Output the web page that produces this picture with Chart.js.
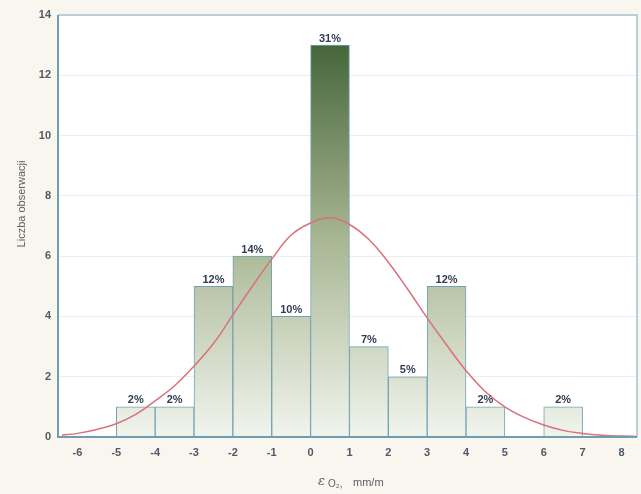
<!DOCTYPE html>
<html>
<head>
<meta charset="utf-8">
<script src="https://cdn.jsdelivr.net/npm/chart.js@4.4.1/dist/chart.umd.min.js"></script>
<style>
  body { margin: 0; background: #f9f6ef; }
  #wrap { width: 641px; height: 494px; }
</style>
</head>
<body>
<div id="wrap"><canvas id="histograma" width="641" height="494"></canvas></div>
<script>
// histogram bins (centre of each 1 mm/m class) and counts
const binCenters = [-4.5, -3.5, -2.5, -1.5, -0.5, 0.5, 1.5, 2.5, 3.5, 4.5, 5.5, 6.5];
const counts = [1, 1, 5, 6, 4, 13, 3, 2, 5, 1, 0, 1];
const pctLabels = ["2%", "2%", "12%", "14%", "10%", "31%", "7%", "5%", "12%", "2%", "", "2%"];

// fitted curve
const curveX = [-6.4, -6, -5.5, -5, -4.5, -4, -3.5, -3, -2.5, -2, -1.5, -1, -0.5, 0, 0.5, 1, 1.5, 2, 2.5, 3, 3.5, 4, 4.5, 5, 5.5, 6, 6.5, 7, 7.5, 8, 8.4];
const curveY = [0.06, 0.12, 0.25, 0.44, 0.75, 1.2, 1.7, 2.35, 3.1, 4.05, 5.0, 5.9, 6.7, 7.1, 7.27, 7.05, 6.55, 5.8, 4.9, 3.95, 3.05, 2.2, 1.5, 1.0, 0.65, 0.4, 0.22, 0.12, 0.06, 0.03, 0.02];

const xTicks = [-6, -5, -4, -3, -2, -1, 0, 1, 2, 3, 4, 5, 6, 7, 8];
const yTicks = [0, 2, 4, 6, 8, 10, 12, 14];

const fontName = "'Liberation Sans', Arial, sans-serif";

function barGradient(context) {
    const chart = context.chart;
    const area = chart.chartArea;
    if (!area) return "#a2b28c";
    const y = chart.scales.y;
    const g = chart.ctx.createLinearGradient(0, y.getPixelForValue(0), 0, y.getPixelForValue(13));
    g.addColorStop(0, "#f1f4ed");
    g.addColorStop(0.5, "#a9b794");
    g.addColorStop(1, "#46663a");
    return g;
}

// tlo wykresu i ramka
const tlo = {
    id: "tlo",
    beforeDraw(chart) {
        const { ctx, chartArea: a } = chart;
        ctx.save();
        ctx.fillStyle = "#f9f6ef";
        ctx.fillRect(0, 0, chart.width, chart.height);
        ctx.fillStyle = "#ffffff";
        ctx.fillRect(a.left, a.top, a.right - a.left, a.bottom - a.top);
        ctx.restore();
    },
    afterDraw(chart) {
        const { ctx, chartArea: a } = chart;
        ctx.save();
        ctx.strokeStyle = "#b7d0da";
        ctx.lineWidth = 2;
        ctx.beginPath();
        ctx.moveTo(a.left, a.top);
        ctx.lineTo(a.right, a.top);
        ctx.lineTo(a.right, a.bottom);
        ctx.stroke();
        ctx.strokeStyle = "#6e9fb0";
        ctx.beginPath();
        ctx.moveTo(a.left, a.top);
        ctx.lineTo(a.left, a.bottom);
        ctx.lineTo(a.right, a.bottom);
        ctx.stroke();

        // procenty nad slupkami
        const meta = chart.getDatasetMeta(1);
        ctx.fillStyle = "#2f3d52";
        ctx.font = "bold 11px " + fontName;
        ctx.textAlign = "center";
        ctx.textBaseline = "bottom";
        meta.data.forEach((bar, i) => {
            if (!pctLabels[i]) return;
            ctx.fillText(pctLabels[i], bar.x, bar.y - 1);
        });

        // tytuly osi
        ctx.fillStyle = "#5a5f66";
        ctx.font = "11px " + fontName;
        ctx.save();
        ctx.translate(22, 204);
        ctx.rotate(-Math.PI / 2);
        ctx.textAlign = "center";
        ctx.textBaseline = "middle";
        ctx.fillText("Liczba obserwacji", 0, 0);
        ctx.restore();
        ctx.textAlign = "left";
        ctx.textBaseline = "middle";
        ctx.font = "italic 13px 'DejaVu Serif', serif";
        ctx.fillText("ε", 318, 482);
        ctx.font = "10px " + fontName;
        ctx.fillText("O₂,", 328, 484);
        ctx.font = "11px " + fontName;
        ctx.fillText("mm/m", 353, 483);
        ctx.restore();
    }
};

new Chart(document.getElementById("histograma"), {
    type: "bar",
    data: {
        datasets: [
            {
                type: "line",
                label: "krzywa",
                data: curveX.map((x, i) => ({ x: x, y: curveY[i] })),
                borderColor: "#d9707c",
                borderWidth: 1.5,
                pointRadius: 0,
                tension: 0.4,
                fill: false,
                order: 0
            },
            {
                label: "Liczba obserwacji",
                data: binCenters.map((x, i) => ({ x: x, y: counts[i] })),
                backgroundColor: barGradient,
                borderColor: "#6fa3b3",
                borderWidth: 1,
                barPercentage: 1,
                categoryPercentage: 1,
                order: 1
            }
        ]
    },
    options: {
        responsive: false,
        animation: false,
        layout: { padding: { top: 15, right: 4, left: 0, bottom: 0 } },
        plugins: {
            legend: { display: false },
            tooltip: { enabled: false }
        },
        scales: {
            x: {
                type: "linear",
                offset: false,
                min: -6.5,
                max: 8.4,
                afterBuildTicks(scale) { scale.ticks = xTicks.map(v => ({ value: v })); },
                afterFit(scale) { scale.height = 57; },
                grid: { display: false, drawTicks: false },
                border: { display: false },
                ticks: { color: "#4f5a66", font: { family: fontName, size: 11, weight: "bold" }, padding: 9, maxRotation: 0 }
            },
            y: {
                min: 0,
                max: 14,
                afterBuildTicks(scale) { scale.ticks = yTicks.map(v => ({ value: v })); },
                afterFit(scale) { scale.width = 58; },
                grid: { color: "#e6eff4", lineWidth: 1, drawTicks: false },
                border: { display: false },
                ticks: { color: "#4f5a66", font: { family: fontName, size: 11, weight: "bold" }, padding: 7 }
            }
        }
    },
    plugins: [tlo]
});
</script>
</body>
</html>
